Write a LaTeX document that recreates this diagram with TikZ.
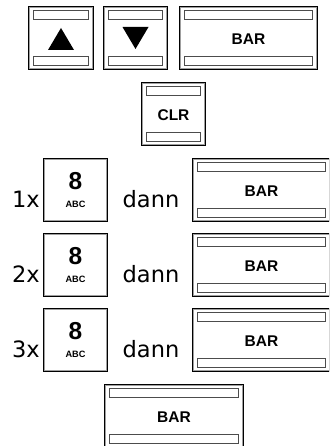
\documentclass[tikz,border=0pt]{standalone}
\usepackage{fontspec}
\setmainfont{Liberation Sans}
\newfontfamily\dvfont{DejaVu Sans}
\tikzset{
  keyframe/.style={draw=black, line width=2.4pt, rectangle, inner sep=0pt, fill=white},
  innerline/.style={draw=gray!75, line width=0.8pt},
  keybar/.style={draw=black!70, line width=0.8pt},
  keylabel/.style={font=\bfseries\fontsize{15.5}{15.5}\selectfont, anchor=base, inner sep=0pt},
  biglabel/.style={font=\bfseries\fontsize{24.5}{24.5}\selectfont, anchor=base, inner sep=0pt},
  smalllabel/.style={font=\bfseries\fontsize{9.2}{9.2}\selectfont, anchor=base, inner sep=0pt},
  plaintext/.style={font=\dvfont\fontsize{22.5}{22.5}\selectfont, anchor=base, inner sep=0pt},
}
\newcommand{\innerframe}[1]{%
  \draw[innerline] ([shift={(1.8pt,-1.8pt)}]#1.north west) rectangle ([shift={(-1.8pt,1.8pt)}]#1.south east);}
\newcommand{\keybars}[1]{%
  \innerframe{#1}%
  \draw[keybar] ([shift={(6pt,-5pt)}]#1.north west) rectangle ([shift={(-6pt,-14pt)}]#1.north east);
  \draw[keybar] ([shift={(6pt,5pt)}]#1.south west) rectangle ([shift={(-6pt,14pt)}]#1.south east);}
\begin{document}
\begin{tikzpicture}[x=1pt,y=-1pt]
\useasboundingbox (0,0) rectangle (329,446);
\begin{scope}
\clip (0,0) rectangle (329,446);
% top row
\node[keyframe, minimum width=64pt, minimum height=62pt] (up) at (61,38) {};
\keybars{up}
\fill ([shift={(-13pt,-12pt)}]up.center) -- ([shift={(13pt,-12pt)}]up.center) -- ([shift={(0pt,10pt)}]up.center) -- cycle;
\node[keyframe, minimum width=63pt, minimum height=62pt] (down) at (135.5,38) {};
\keybars{down}
\fill ([shift={(-13pt,11pt)}]down.center) -- ([shift={(13pt,11pt)}]down.center) -- ([shift={(0pt,-11pt)}]down.center) -- cycle;
\node[keyframe, minimum width=137pt, minimum height=62pt] (bartop) at (248.5,38) {};
\keybars{bartop}
\node[keylabel] (bartopt) at (248.5,44.3) {BAR};
% CLR
\node[keyframe, minimum width=63pt, minimum height=62pt] (clr) at (173.5,114) {};
\keybars{clr}
\node[keylabel] (clrt) at (173.5,120.3) {CLR};
% rows
\foreach \i/\yy in {1/190,2/265,3/340}{
  \node[plaintext] (n\i) at (26,\yy+17.5) {\i x};
  \node[keyframe, minimum width=63pt, minimum height=62pt] (k\i) at (75.5,\yy) {};
  \innerframe{k\i}
  \node[biglabel] (e\i) at (75.5,\yy-0.5) {8};
  \node[smalllabel] (a\i) at (75.5,\yy+17) {ABC};
  \node[plaintext] (d\i) at (151,\yy+17) {dann};
  \node[keyframe, minimum width=137pt, minimum height=62pt] (b\i) at (261.5,\yy) {};
  \keybars{b\i}
  \node[keylabel] (bt\i) at (261.5,\yy+6.3) {BAR};
}
% bottom
\node[keyframe, minimum width=138pt, minimum height=62pt] (barbot) at (174,416) {};
\keybars{barbot}
\node[keylabel] (barbott) at (174,422.3) {BAR};
\end{scope}
\end{tikzpicture}
\end{document}
